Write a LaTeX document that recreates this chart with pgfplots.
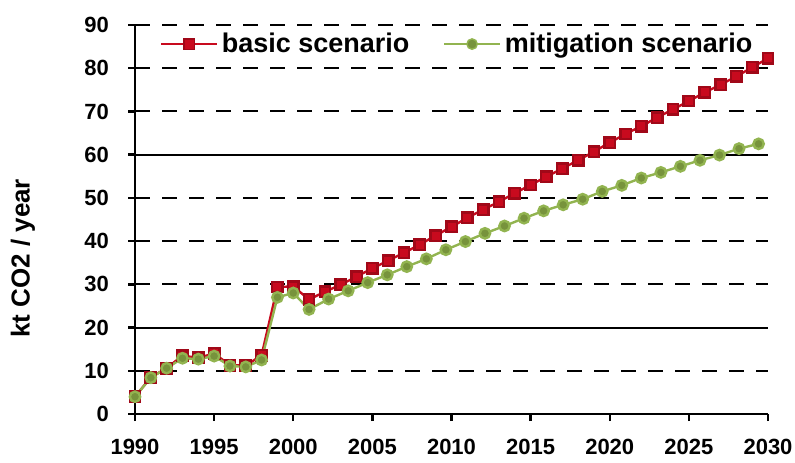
\documentclass[border=0pt]{standalone}
\usepackage{fontspec}
\setmainfont{Liberation Sans}
\usepackage{pgfplots}
\pgfplotsset{compat=1.18}

\definecolor{basicred}{RGB}{200,10,30}
\definecolor{mitgreen}{RGB}{119,147,60}
\definecolor{mitline}{RGB}{146,180,80}

\begin{document}
\begin{tikzpicture}
\begin{axis}[
    scale only axis,
    width=316.5pt, height=194.5pt,
    at={(0,0)}, anchor=south west,
    xmin=1990, xmax=2030,
    ymin=0, ymax=90,
    xtick={1990,1995,...,2030},
    ytick={0,10,...,90},
    axis lines*=left,
    axis line style={line width=1.2pt},
    tick align=outside,
    major tick length=3.5pt,
    tick style={line width=1.2pt, black},
    /pgf/number format/assume math mode=true,
    x tick label style={/pgf/number format/1000 sep={}, yshift=-5.5pt},
    y tick label style={xshift=-6pt},
    tick label style={font=\bfseries\fontsize{11}{13}\selectfont},
    ymajorgrids,
    major grid style={line width=1pt, black, dash pattern=on 7.5pt off 6pt},
    extra y ticks={20,60},
    extra y tick labels={},
    extra y tick style={major grid style={solid, line width=1pt, black}},
    ylabel={kt CO2 / year},
    ylabel style={font=\bfseries\fontsize{13}{15}\selectfont,
        at={(axis description cs:-0.177,0.40)}, anchor=center},
    legend columns=2,
    legend style={draw=none, fill=none,
        at={(axis description cs:0.03,0.951)}, anchor=west,
        font=\bfseries\fontsize{13.5}{16}\selectfont,
        /tikz/every even column/.append style={column sep=15pt}},
    legend image code/.code={\draw[mark repeat=2, mark phase=2, line width=0.7pt]
        plot coordinates {(0pt,0pt) (14pt,0pt) (28pt,0pt)};},
    clip=false
]
% basic scenario
\addplot[basicred, line width=1.2pt, mark=square*,
    mark options={fill=basicred, draw=basicred!80!black, mark size=2.6pt}]
coordinates {
(1990,4.0) (1991,8.5) (1992,10.6) (1993,13.5) (1994,13.0) (1995,14.0)
(1996,11.3) (1997,11.2) (1998,13.6) (1999,29.4) (2000,29.5) (2001,26.5)
(2002,28.3) (2003,29.9) (2004,31.8) (2005,33.7) (2006,35.5) (2007,37.3)
(2008,39.2) (2009,41.3) (2010,43.3) (2011,45.4) (2012,47.3) (2013,49.1)
(2014,51.1) (2015,53.0) (2016,54.9) (2017,56.8) (2018,58.7) (2019,60.7)
(2020,62.8) (2021,64.8) (2022,66.6) (2023,68.6) (2024,70.5) (2025,72.4)
(2026,74.4) (2027,76.2) (2028,78.1) (2029,80.2) (2030,82.3)
};
\addlegendentry{basic scenario}
% mitigation scenario
\addplot[mitline, line width=1.2pt, mark=*,
    mark options={fill=mitgreen, draw=mitline, mark size=2.6pt}]
coordinates {
(1990,4.0) (1991,8.4) (1992,10.6) (1993,12.9) (1994,12.7) (1995,13.4)
(1996,11.1) (1997,10.9) (1998,12.5) (1999,27.0) (2000,28.0) (2001,24.2)
(2002.235,26.6) (2003.47,28.5) (2004.705,30.4) (2005.94,32.2)
(2007.175,34.1) (2008.41,35.9) (2009.645,38.0) (2010.88,39.9)
(2012.115,41.8) (2013.35,43.5) (2014.585,45.3) (2015.82,47.0)
(2017.055,48.4) (2018.29,49.7) (2019.525,51.5) (2020.76,52.9)
(2021.995,54.6) (2023.23,55.9) (2024.465,57.3) (2025.7,58.7)
(2026.935,59.9) (2028.17,61.4) (2029.405,62.5)
};
\addlegendentry{mitigation scenario}
\end{axis}
\pgfresetboundingbox
\path[use as bounding box] (-67.5pt,-24pt) rectangle (330pt,207pt);
\end{tikzpicture}
\end{document}
